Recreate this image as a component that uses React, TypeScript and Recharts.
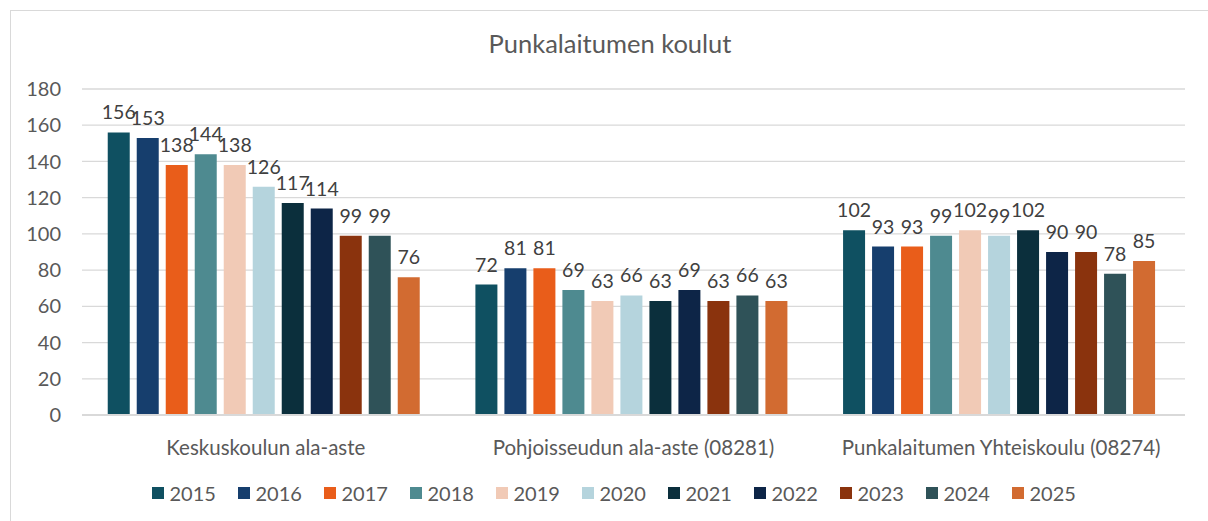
import React from 'react';
import { BarChart, Bar, XAxis, YAxis, CartesianGrid, Legend, LabelList } from 'recharts';

const categories = ['Keskuskoulun ala-aste', 'Pohjoisseudun ala-aste (08281)', 'Punkalaitumen Yhteiskoulu (08274)'];
const years = ['2015', '2016', '2017', '2018', '2019', '2020', '2021', '2022', '2023', '2024', '2025'];
const keskuskoulu = [156, 153, 138, 144, 138, 126, 117, 114, 99, 99, 76];
const pohjoisseutu = [72, 81, 81, 69, 63, 66, 63, 69, 63, 66, 63];
const yhteiskoulu = [102, 93, 93, 99, 102, 99, 102, 90, 90, 78, 85];
const colors = ['#0f5061', '#163e6d', '#e95d1a', '#4e8a90', '#f1cab6', '#b5d4dd', '#0b2f3c', '#0d2547', '#8a330d', '#2f5258', '#d26b31'];
const yTicks = [0, 20, 40, 60, 80, 100, 120, 140, 160, 180];

const seriesValues = [keskuskoulu, pohjoisseutu, yhteiskoulu];
const data = categories.map((name, i) => {
  const row: Record<string, string | number> = { name };
  years.forEach((y, j) => {
    row['y' + y] = seriesValues[i][j];
  });
  return row;
});

const FONT = 'Lato, "Open Sans", sans-serif';

const renderLegend = (props: any) => {
  const { payload } = props;
  return (
    <div style={{ display: 'flex', justifyContent: 'center', paddingLeft: 44, fontFamily: FONT }}>
      {payload.map((p: any) => (
        <div key={p.value} style={{ display: 'flex', alignItems: 'center', width: 86 }}>
          <span style={{ display: 'inline-block', width: 12, height: 12, background: p.color, marginRight: 6 }} />
          <span style={{ fontSize: 20, color: '#595959' }}>{p.value}</span>
        </div>
      ))}
    </div>
  );
};

export default function App() {
  return (
    <div style={{ position: 'absolute', left: 0, top: 0, width: 1208, height: 521, overflow: 'hidden', background: '#fff', fontFamily: FONT }}>
      <div style={{ position: 'absolute', left: 10, top: 10, width: 1230, height: 560, border: '1.5px solid #d9d9d9', boxSizing: 'border-box' }} />
      <div style={{ position: 'absolute', left: 0, top: 28, width: 1220, textAlign: 'center', fontSize: 25.5, color: '#595959' }}>
        Punkalaitumen koulut
      </div>
      <div style={{ position: 'absolute', left: 0, top: 0 }}>
        <BarChart
          width={1208}
          height={521}
          data={data}
          margin={{ top: 89, right: 23, left: 20, bottom: 16 }}
          barGap={7}
          barCategoryGap="7%"
        >
          <CartesianGrid vertical={false} stroke="#d9d9d9" strokeWidth={1.3} />
          <XAxis
            dataKey="name"
            axisLine={{ stroke: '#d9d9d9', strokeWidth: 2 }}
            tickLine={false}
            tick={{ fontSize: 20.5, fill: '#595959', fontFamily: FONT }}
            tickMargin={19}
            height={66}
            interval={0}
          />
          <YAxis
            width={62}
            domain={[0, 180]}
            ticks={yTicks}
            axisLine={false}
            tickLine={false}
            tickMargin={15}
            tick={{ fontSize: 20, fill: '#595959', fontFamily: FONT }}
          />
          <Legend content={renderLegend} verticalAlign="bottom" />
          {years.map((y, j) => (
            <Bar key={y} dataKey={'y' + y} name={y} fill={colors[j]} isAnimationActive={false}>
              <LabelList dataKey={'y' + y} position="top" offset={13} fill="#404040" fontSize={19.5} fontFamily={FONT} />
            </Bar>
          ))}
        </BarChart>
      </div>
    </div>
  );
}
